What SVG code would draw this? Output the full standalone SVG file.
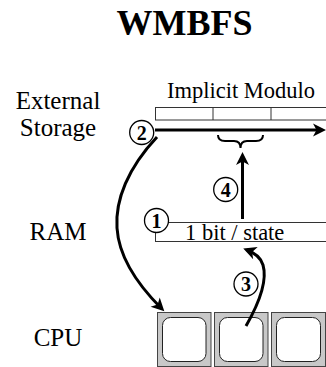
<svg xmlns="http://www.w3.org/2000/svg" width="326" height="367" viewBox="0 0 326 367" font-family="Liberation Serif, Times New Roman, serif">
<style>
text{font-family:"Liberation Serif","Times New Roman",serif;fill:#000}
.lbl{font-size:25px;text-anchor:middle}
.sm{font-size:22.5px}
.num{font-size:20px;font-weight:bold;text-anchor:middle}
.cir{fill:#fff;stroke:#000;stroke-width:1.3}
.thin{fill:none;stroke:#333;stroke-width:1}
.arr{fill:none;stroke:#000;stroke-width:3}
.outer{fill:#c8c8c8;stroke:#444;stroke-width:1}
.inner{fill:#fff;stroke:#222;stroke-width:1}
</style>
<defs>
<marker id="ah" viewBox="-14 -7 15 14" markerWidth="15" markerHeight="14" refX="-4" refY="0" orient="auto" markerUnits="userSpaceOnUse">
<path d="M0,0 L-13,-6.5 L-9.5,0 L-13,6.5 Z" fill="#000"/>
</marker>
</defs>
<rect width="326" height="367" fill="#fff"/>
<text x="184.5" y="35" font-size="36" font-weight="bold" text-anchor="middle">WMBFS</text>
<g id="labels">
<text class="lbl" x="58" y="108.5">External</text>
<text class="lbl" x="58" y="136">Storage</text>
<text class="lbl" x="58" y="240">RAM</text>
<text class="lbl" x="58" y="346">CPU</text>
</g>
<g id="storage">
<text class="sm" x="167" y="98">Implicit Modulo</text>
<rect class="thin" x="155.5" y="107.5" width="180" height="12.5"/>
<line class="thin" x1="213" y1="107.5" x2="213" y2="120"/>
<line class="thin" x1="271" y1="107.5" x2="271" y2="120"/>
<path d="M218,135 Q218,141 225,141 L234,141 Q240.5,141 240.5,148 Q240.5,141 247,141 L256,141 Q263,141 263,135" fill="none" stroke="#000" stroke-width="2"/>
</g>
<g id="ram">
<rect class="thin" x="155.5" y="222.5" width="180" height="19"/>
<text class="sm" x="185" y="240">1 bit / state</text>
</g>
<g id="cpu">
<rect class="outer" x="157.5" y="312.5" width="53.5" height="54"/>
<rect class="inner" x="162.5" y="317.5" width="43.5" height="44" rx="8"/>
<rect class="outer" x="214.5" y="312.5" width="53.5" height="54"/>
<rect class="inner" x="219.5" y="317.5" width="43.5" height="44" rx="8"/>
<rect class="outer" x="271.5" y="312.5" width="54" height="54"/>
<rect class="inner" x="276.5" y="317.5" width="44" height="44" rx="8"/>
</g>
<g id="connectors">
<path class="arr" d="M155,130 L322,130" marker-end="url(#ah)"/>
<path class="arr" d="M157,137 C128,168 115,200 117,228 C119,260 140,287 161.5,308.5" marker-end="url(#ah)"/>
<path class="arr" d="M242.5,219 L242.5,156" marker-end="url(#ah)"/>
<path class="arr" d="M246,326 C258,305 268,282 263,265 C261,258 255,253 247,250" marker-end="url(#ah)"/>
</g>
<g id="step2"><circle class="cir" cx="141.7" cy="132.5" r="12"/><text class="num" x="141.7" y="139.5">2</text></g>
<g id="step1"><circle class="cir" cx="156.5" cy="220.5" r="12"/><text class="num" x="156.5" y="227.5">1</text></g>
<g id="step4"><circle class="cir" cx="225.7" cy="189.5" r="12"/><text class="num" x="225.7" y="196.5">4</text></g>
<g id="step3"><circle class="cir" cx="246" cy="284" r="12"/><text class="num" x="246" y="291">3</text></g>
</svg>
